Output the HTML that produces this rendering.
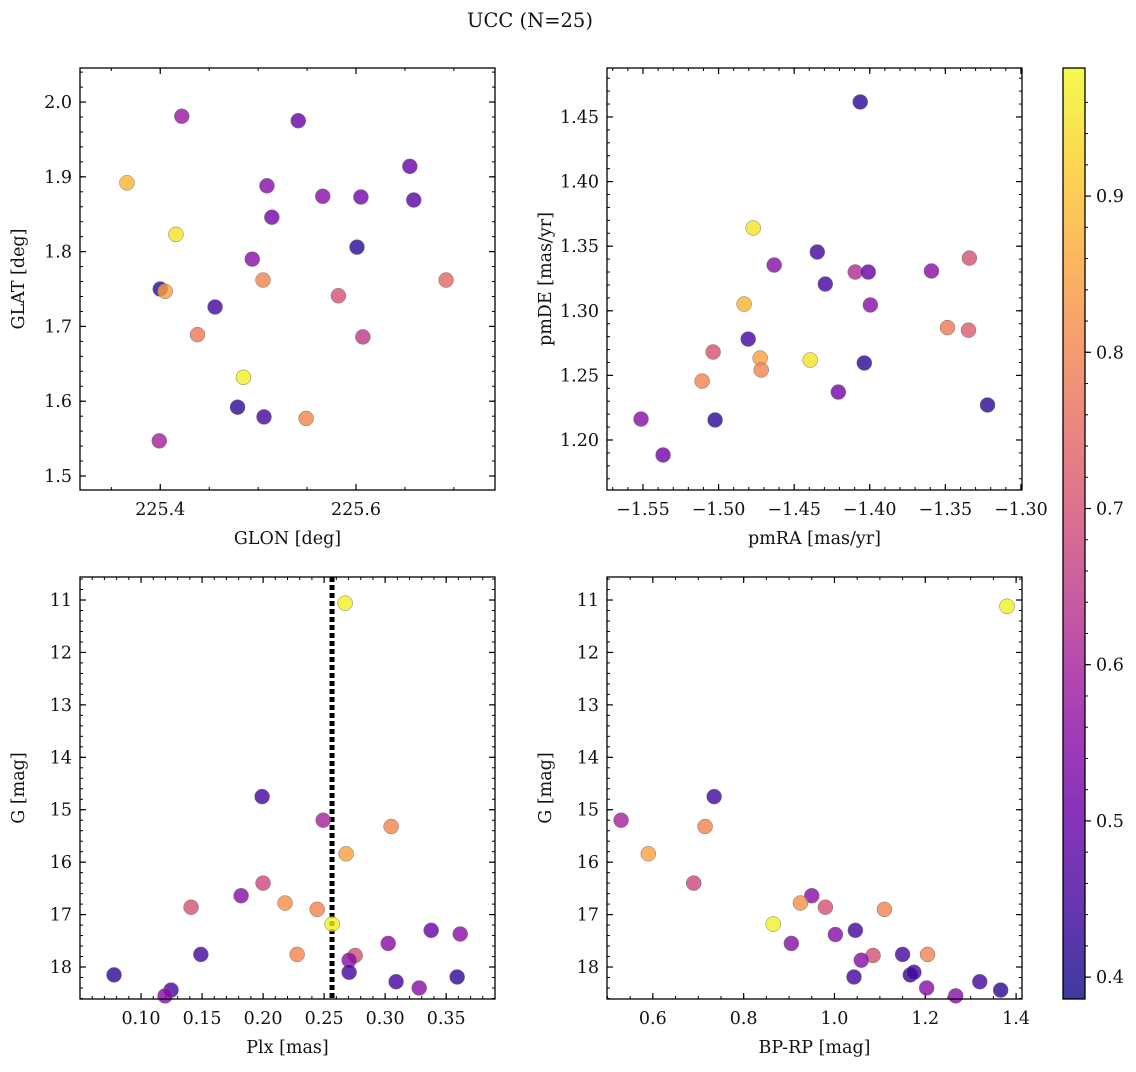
<!DOCTYPE html>
<html><head><meta charset="utf-8"><style>
html,body{margin:0;padding:0;background:#fff;}
svg text{font-family:"DejaVu Serif","Liberation Serif",serif;fill:#111;}
</style></head><body>
<svg id="fig" xmlns="http://www.w3.org/2000/svg" width="1136" height="1067" viewBox="0 0 1136 1067">
<text x="530" y="27" font-size="19.5" text-anchor="middle">UCC (N=25)</text>
</svg>
<script>
// ---- data ----
const p1X=[225.366,225.422,225.400,225.405,225.416,225.438,225.456,225.479,225.485,225.494,225.505,225.506,225.509,225.514,225.541,225.549,225.566,225.582,225.601,225.605,225.607,225.655,225.659,225.692,225.399];
const p1Y=[1.892,1.981,1.750,1.747,1.823,1.689,1.726,1.592,1.632,1.790,1.762,1.579,1.888,1.846,1.975,1.577,1.874,1.741,1.806,1.873,1.686,1.914,1.869,1.762,1.547];
const p1C=[0.88,0.58,0.42,0.85,0.95,0.78,0.45,0.42,0.97,0.55,0.80,0.45,0.55,0.52,0.50,0.80,0.55,0.70,0.42,0.52,0.65,0.50,0.48,0.75,0.60];
const p2X=[-1.4063,-1.4771,-1.4347,-1.3341,-1.4632,-1.4294,-1.4096,-1.4010,-1.3592,-1.3996,-1.4831,-1.4804,-1.5036,-1.4725,-1.4718,-1.4394,-1.4036,-1.5109,-1.3486,-1.3347,-1.4208,-1.5023,-1.3221,-1.5513,-1.5367];
const p2Y=[1.4616,1.3641,1.3455,1.3408,1.3354,1.3207,1.3300,1.3300,1.3308,1.3045,1.3052,1.2781,1.2681,1.2634,1.2542,1.2619,1.2596,1.2456,1.2870,1.2850,1.2371,1.2155,1.2271,1.2162,1.1884];
const p2C=[0.42,0.95,0.45,0.70,0.55,0.45,0.62,0.50,0.55,0.55,0.88,0.45,0.70,0.85,0.80,0.95,0.42,0.80,0.78,0.72,0.52,0.42,0.42,0.55,0.52];
const p3X=[0.2672,0.1992,0.2492,0.3049,0.2680,0.1820,0.2000,0.1410,0.2180,0.2443,0.2566,0.2279,0.1490,0.3025,0.3377,0.3615,0.2754,0.2705,0.2705,0.0779,0.1246,0.1197,0.3090,0.3279,0.3590];
const p3Y=[11.06,14.75,15.20,15.32,15.84,16.64,16.40,16.86,16.78,16.90,17.18,17.76,17.76,17.55,17.30,17.37,17.78,17.87,18.10,18.15,18.44,18.55,18.28,18.40,18.19];
const p3C=[0.97,0.45,0.60,0.80,0.85,0.55,0.68,0.70,0.82,0.80,0.97,0.80,0.45,0.55,0.50,0.55,0.70,0.55,0.45,0.42,0.45,0.55,0.45,0.55,0.42];
const p4X=[1.380,0.735,0.530,0.715,0.590,0.950,0.690,0.980,0.925,1.110,0.865,1.205,1.150,1.002,1.046,0.905,1.085,1.059,1.043,1.167,1.175,1.320,1.203,1.366,1.267];
const p4Y=[11.12,14.75,15.20,15.32,15.84,16.64,16.40,16.86,16.78,16.90,17.18,17.76,17.76,17.38,17.30,17.55,17.78,17.87,18.19,18.15,18.10,18.28,18.40,18.44,18.55];
const p4C=[0.97,0.45,0.60,0.80,0.85,0.55,0.68,0.70,0.82,0.80,0.97,0.80,0.45,0.55,0.45,0.55,0.70,0.55,0.45,0.42,0.45,0.45,0.55,0.42,0.55];
const cbTicks=[0.4,0.5,0.6,0.7,0.8,0.9];
const plxLine=0.2565;
// ---- rendering ----
const NS="http://www.w3.org/2000/svg";
const svg=document.getElementById('fig');
const CMIN=0.386,CMAX=0.982;
const stops=["#0d0887","#41049d","#6a00a8","#8f0da4","#b12a90","#cc4778","#e16462","#f2844b","#fca636","#fcce25","#f0f921"];
function hex(h){return [1,3,5].map(i=>parseInt(h.substr(i,2),16));}
function plasma(t){t=Math.max(0,Math.min(1,t));const f=t*10,i=Math.min(9,Math.floor(f)),r=f-i;const a=hex(stops[i]),b=hex(stops[i+1]);return 'rgb('+a.map((v,k)=>Math.round(v+(b[k]-v)*r)).join(',')+')';}
function mk(tag,attrs,parent){const e=document.createElementNS(NS,tag);for(const k in attrs)e.setAttribute(k,attrs[k]);(parent||svg).appendChild(e);return e;}
function fmt(v,d){let s=v.toFixed(d);if(s.startsWith('-'))s='\u2212'+s.slice(1);return s;}
const FS=17.5;
function panel(o){
  const g=mk('g',{});
  
  
  const sx=v=>o.L+(v-o.x0)/(o.x1-o.x0)*(o.R-o.L);
  const sy=o.inv?(v=>o.T+(v-o.y0)/(o.y1-o.y0)*(o.B-o.T)):(v=>o.B-(v-o.y0)/(o.y1-o.y0)*(o.B-o.T));
  const eps=1e-9;
  function ticks(lo,hi,step){const a=[];const s=Math.ceil((Math.min(lo,hi)-eps)/step);for(let k=s;k*step<=Math.max(lo,hi)+eps;k++)a.push(k*step);return a;}
  ticks(o.x0,o.x1,o.xmin).forEach(v=>{const x=sx(v);mk('line',{x1:x,x2:x,y1:o.B,y2:o.B-3,stroke:'#000','stroke-width':1},g);mk('line',{x1:x,x2:x,y1:o.T,y2:o.T+3,stroke:'#000','stroke-width':1},g);});
  ticks(o.y0,o.y1,o.ymin).forEach(v=>{const y=sy(v);mk('line',{x1:o.L,x2:o.L+3,y1:y,y2:y,stroke:'#000','stroke-width':1},g);mk('line',{x1:o.R,x2:o.R-3,y1:y,y2:y,stroke:'#000','stroke-width':1},g);});
  o.xt.forEach(v=>{const x=sx(v);mk('line',{x1:x,x2:x,y1:o.B,y2:o.B-6,stroke:'#000','stroke-width':1.2},g);mk('line',{x1:x,x2:x,y1:o.T,y2:o.T+6,stroke:'#000','stroke-width':1.2},g);
    const t=mk('text',{x:x,y:o.B+25,'font-size':FS,'text-anchor':'middle'},g);t.textContent=fmt(v,o.xd);
    
    });
  o.yt.forEach(v=>{const y=sy(v);mk('line',{x1:o.L,x2:o.L+6,y1:y,y2:y,stroke:'#000','stroke-width':1.2},g);mk('line',{x1:o.R,x2:o.R-6,y1:y,y2:y,stroke:'#000','stroke-width':1.2},g);
    const t=mk('text',{x:o.L-8,y:y+6,'font-size':FS,'text-anchor':'end'},g);t.textContent=fmt(v,o.yd);
    
    });
  const xl=mk('text',{x:(o.L+o.R)/2,y:o.B+54,'font-size':17.5,'text-anchor':'middle'},g);xl.textContent=o.xlab;
  
  
  const yl=mk('text',{x:0,y:0,'font-size':17.5,'text-anchor':'middle',transform:`translate(${o.L-56},${(o.T+o.B)/2}) rotate(-90)`},g);yl.textContent=o.ylab;
  
  
  if(o.vline!==undefined){const x=sx(o.vline);const ln=mk('line',{x1:x,x2:x,y1:o.T,y2:o.B,stroke:'#000','stroke-width':5,'stroke-dasharray':'5 3'},g);
    
    }
  o.X.forEach((v,i)=>{const c=mk('circle',{cx:sx(v),cy:sy(o.Y[i]),r:7.5,fill:plasma((o.C[i]-CMIN)/(CMAX-CMIN)),'fill-opacity':0.8,stroke:'#777','stroke-width':0.5},g);
    
    });
  mk('rect',{x:o.L,y:o.T,width:o.R-o.L,height:o.B-o.T,fill:'none',stroke:'#000','stroke-width':1.3},g);
}
panel({name:'glon-glat-panel',L:80,R:495,T:68,B:490,x0:225.318,x1:225.742,y0:1.4813,y1:2.0455,xt:[225.4,225.6],xd:1,xmin:0.05,yt:[1.5,1.6,1.7,1.8,1.9,2.0],yd:1,ymin:0.02,X:p1X,Y:p1Y,C:p1C,xlab:'GLON [deg]',ylab:'GLAT [deg]'});
panel({name:'pm-panel',L:607,R:1022,T:68,B:490,x0:-1.5738,x1:-1.2993,y0:1.1613,y1:1.4879,xt:[-1.55,-1.5,-1.45,-1.4,-1.35,-1.3],xd:2,xmin:0.01,yt:[1.2,1.25,1.3,1.35,1.4,1.45],yd:2,ymin:0.01,X:p2X,Y:p2Y,C:p2C,xlab:'pmRA [mas/yr]',ylab:'pmDE [mas/yr]'});
panel({name:'plx-g-panel',L:80,R:495,T:577,B:999,x0:0.05,x1:0.390,y0:10.561,y1:18.61,inv:true,xt:[0.1,0.15,0.2,0.25,0.3,0.35],xd:2,xmin:0.01,yt:[11,12,13,14,15,16,17,18],yd:0,ymin:0.2,X:p3X,Y:p3Y,C:p3C,xlab:'Plx [mas]',ylab:'G [mag]',vline:plxLine});
panel({name:'cmd-panel',L:607,R:1022,T:577,B:999,x0:0.499,x1:1.413,y0:10.561,y1:18.61,inv:true,xt:[0.6,0.8,1.0,1.2,1.4],xd:1,xmin:0.05,yt:[11,12,13,14,15,16,17,18],yd:0,ymin:0.2,X:p4X,Y:p4Y,C:p4C,xlab:'BP-RP [mag]',ylab:'G [mag]'});
(function(){
  const L=1063,R=1085,T=68,B=999;
  const g=mk('g',{});
  
  
  const defs=mk('defs',{},g);const lg=mk('linearGradient',{id:'cbg',x1:0,y1:1,x2:0,y2:0},defs);
  for(let i=0;i<=20;i++){mk('stop',{offset:i/20,'stop-color':plasma(i/20),'stop-opacity':0.8},lg);}
  mk('rect',{x:L,y:T,width:R-L,height:B-T,fill:'url(#cbg)'},g);
  const sy=v=>B-(v-CMIN)/(CMAX-CMIN)*(B-T);
  for(let v=0.4;v<=0.98;v+=0.02){const y=sy(v);mk('line',{x1:R,x2:R+3,y1:y,y2:y,stroke:'#000','stroke-width':1},g);}
  cbTicks.forEach(v=>{const y=sy(v);mk('line',{x1:R,x2:R+6,y1:y,y2:y,stroke:'#000','stroke-width':1.2},g);
    const t=mk('text',{x:R+11,y:y+6,'font-size':FS},g);t.textContent=v.toFixed(1);
    
    });
  mk('rect',{x:L,y:T,width:R-L,height:B-T,fill:'none',stroke:'#000','stroke-width':1.3},g);
})();
</script>
</body></html>
